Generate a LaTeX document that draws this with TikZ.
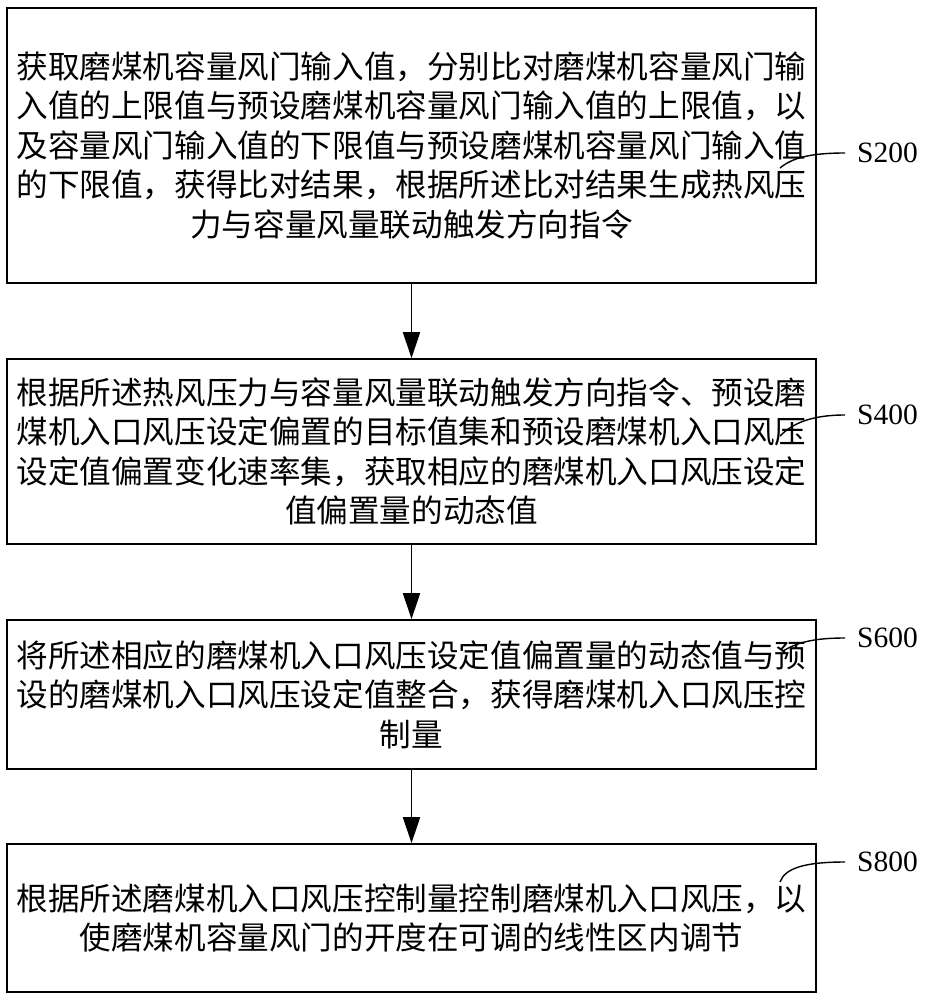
\documentclass[tikz,border=0pt]{standalone}
\usepackage{fontspec}
\setmainfont{Liberation Serif}
\newfontfamily\cjk{Noto Sans CJK SC}
\usetikzlibrary{arrows.meta}
\begin{document}
\begin{tikzpicture}[x=1pt,y=-1pt,
  stepbox/.style={draw,line width=1.6pt,minimum width=809pt,inner sep=0pt,align=center,font=\cjk\fontsize{31.6}{39.5}\selectfont},
  lbl/.style={font=\fontsize{29.5}{32}\selectfont,anchor=west,inner sep=0pt},
  flow/.style={line width=1.6pt,-{Triangle[length=26pt,width=17pt]}},
  lead/.style={line width=1.4pt,shorten >=12pt}]
\useasboundingbox (0,0) rectangle (928,1000);
\node[stepbox,minimum height=275pt] (b1) at (411.5,145.5) {获取磨煤机容量风门输入值，分别比对磨煤机容量风门输\\入值的上限值与预设磨煤机容量风门输入值的上限值，以\\及容量风门输入值的下限值与预设磨煤机容量风门输入值\\的下限值，获得比对结果，根据所述比对结果生成热风压\\力与容量风量联动触发方向指令};
\node[stepbox,minimum height=185pt] (b2) at (411.5,451.5) {根据所述热风压力与容量风量联动触发方向指令、预设磨\\煤机入口风压设定偏置的目标值集和预设磨煤机入口风压\\设定值偏置变化速率集，获取相应的磨煤机入口风压设定\\值偏置量的动态值};
\node[stepbox,minimum height=149pt] (b3) at (411.5,694.5) {将所述相应的磨煤机入口风压设定值偏置量的动态值与预\\设的磨煤机入口风压设定值整合，获得磨煤机入口风压控\\制量};
\node[stepbox,minimum height=148pt] (b4) at (411.5,918) {根据所述磨煤机入口风压控制量控制磨煤机入口风压，以\\使磨煤机容量风门的开度在可调的线性区内调节};
\draw[flow] (b1) -- (b2);
\draw[flow] (b2) -- (b3);
\draw[flow] (b3) -- (b4);
\node[lbl] (l1) at (857,153) {S200};
\node[lbl] (l2) at (857,415) {S400};
\node[lbl] (l3) at (857,638) {S600};
\node[lbl] (l4) at (857,862) {S800};
\coordinate (c1) at (780,168);
\coordinate (c2) at (780,436);
\coordinate (c3) at (783,651);
\coordinate (c4) at (780,882);
\draw[lead] (c1) .. controls (792,158) and (810,153) .. (l1.west);
\draw[lead] (c2) .. controls (792,424) and (810,415) .. (l2.west);
\draw[lead] (c3) .. controls (798,642) and (815,638) .. (l3.west);
\draw[lead] (c4) .. controls (785,868) and (805,862) .. (l4.west);
\end{tikzpicture}
\end{document}
